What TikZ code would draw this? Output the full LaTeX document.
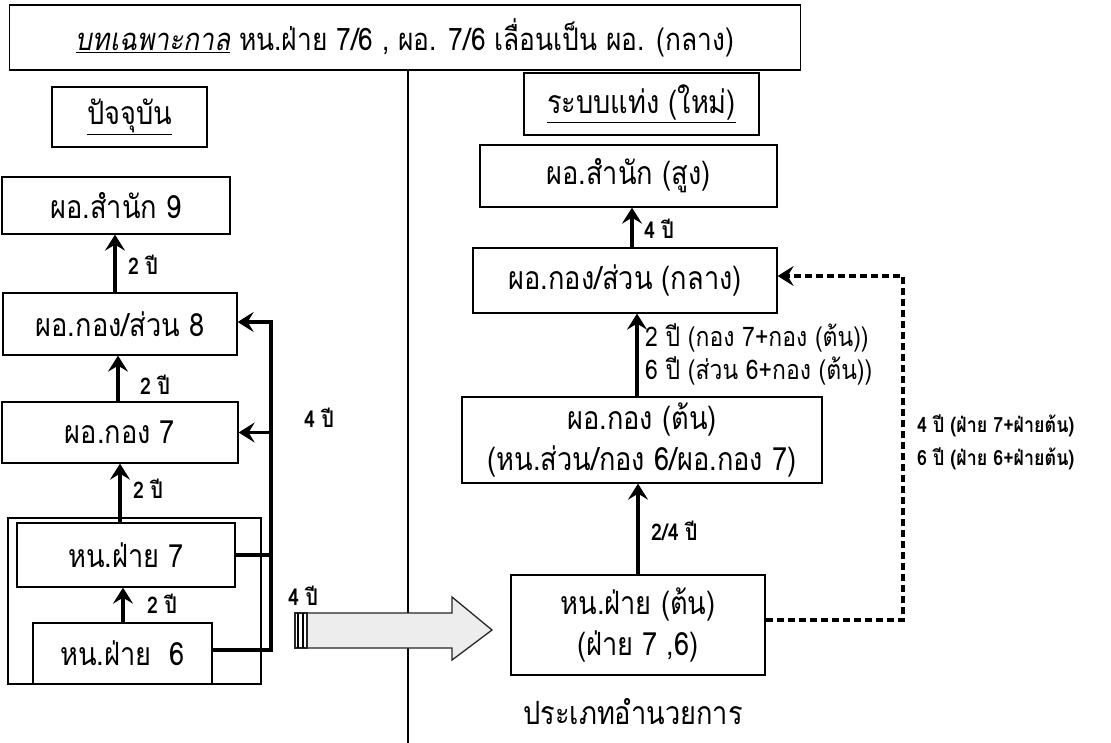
\documentclass[tikz,border=0pt]{standalone}
\usepackage{fontspec}
\setmainfont[Script=Thai, FakeStretch=0.85]{Loma}
\usetikzlibrary{arrows.meta}
\newcommand{\fsbox}{\fontsize{32}{41}\selectfont}
\newcommand{\fstitle}{\fontsize{31}{34}\selectfont}
\newcommand{\fslab}{\fontsize{23}{26}\selectfont\bfseries}
\newcommand{\fsrlab}{\fontsize{27}{30}\selectfont}
\newcommand{\fssmall}{\fontsize{21}{24}\selectfont\bfseries}
\begin{document}
\begin{tikzpicture}[x=1pt,y=-1pt,
  box/.style={draw, line width=1.3pt, inner sep=0pt, align=center, font=\fsbox},
  tip/.style={-{Stealth[length=16pt 0 0,width=20pt 0 0,inset=6pt]}},
  up/.style={tip, line width=3.2pt},
  trunk/.style={line width=3.2pt},
  trunkarrow/.style={trunk, tip},
  dashline/.style={line width=3.4pt, dash pattern=on 7pt off 4pt, tip},
  lab/.style={font=\fslab, anchor=west, inner sep=0pt},
  rlab/.style={font=\fsrlab, anchor=west, inner sep=0pt},
  slab/.style={font=\fssmall, anchor=west, inner sep=0pt}]
\useasboundingbox (0,0) rectangle (1111,743);
\fill[white] (0,0) rectangle (1111,743);

% title and divider
\node[box, font=\fstitle, minimum width=791pt, minimum height=65pt] (title) at (405,37.5)
  {\underline{\textit{บทเฉพาะกาล}} หน.ฝ่าย 7/6 , ผอ. 7/6 เลื่อนเป็น ผอ. (กลาง)};
\coordinate (divtop) at (408,70);
\coordinate (divbot) at (408,743);
\draw[line width=1.4pt] (divtop) -- (divbot);

% left column
\node[box, minimum width=155pt, minimum height=60pt] (now) at (129.5,117) {\underline{ปัจจุบัน}};
\node[box, minimum width=228pt, minimum height=57pt] (S9) at (116,205.5) {ผอ.สำนัก 9};
\node[box, minimum width=234pt, minimum height=62pt] (K8) at (120,324) {ผอ.กอง/ส่วน 8};
\node[box, minimum width=236pt, minimum height=61pt] (K7) at (120,432.5) {ผอ.กอง 7};
\node[draw, line width=1.3pt, minimum width=253pt, minimum height=166pt, inner sep=0pt] (grp) at (134.5,601) {};
\node[box, minimum width=218pt, minimum height=64pt] (F7) at (126,555) {หน.ฝ่าย 7};
\node[box, minimum width=179pt, minimum height=61pt] (F6) at (122.5,653.5) {หน.ฝ่าย\ \ 6};

\coordinate (xa) at (115,0);
\coordinate (xb) at (118,0);
\coordinate (xc) at (120,0);
\coordinate (xd) at (123,0);
\draw[up] (K8.north -| xa) -- (S9.south -| xa);
\draw[up] (K7.north -| xb) -- (K8.south -| xb);
\draw[up] (F7.north -| xc) -- (K7.south -| xc);
\draw[up] (F6.north -| xd) -- (F7.south -| xd);
\node[lab] (l1) at (128,265) {2 ปี};
\node[lab] (l2) at (140,385) {2 ปี};
\node[lab] (l3) at (133,489) {2 ปี};
\node[lab] (l4) at (147,604) {2 ปี};

\coordinate (t1) at (271,650);
\coordinate (t2) at (271,322);
\draw[trunkarrow] (F6.east |- t1) -- (t1) -- (t2) -- (K8.east |- t2);
\draw[trunkarrow] (t2 |- K7.east) -- (K7.east);
\draw[trunk] (F7.east) -- (t1 |- F7.east);
\node[lab] (l5) at (304,418) {4 ปี};
\node[lab] (l6) at (288,596) {4 ปี};

% big arrow
\coordinate (ba1) at (307,613);
\coordinate (ba2) at (452,613);
\coordinate (ba3) at (452,597);
\coordinate (ba4) at (492,630);
\coordinate (ba5) at (452,660);
\coordinate (ba6) at (452,648);
\coordinate (ba7) at (307,648);
\filldraw[fill=gray!14, draw=black!85, line width=1.3pt] (ba1) -- (ba2) -- (ba3) -- (ba4) -- (ba5) -- (ba6) -- (ba7) -- cycle;
\filldraw[fill=white, draw=black!85, line width=1.3pt] (295,613) rectangle (307,648);
\draw[line width=2pt] (298,613) -- (298,648) (302.5,613) -- (302.5,648);

% right column
\node[box, minimum width=235pt, minimum height=62pt] (R) at (641.5,104) {\underline{ระบบแท่ง (ใหม่)}};
\node[box, minimum width=297pt, minimum height=62pt] (H) at (628.5,176) {ผอ.สำนัก (สูง)};
\node[box, minimum width=304pt, minimum height=65pt] (M) at (625,280.5) {ผอ.กอง/ส่วน (กลาง)};
\node[box, minimum width=360pt, minimum height=86pt] (L) at (642,440) {ผอ.กอง (ต้น)\\(หน.ส่วน/กอง 6/ผอ.กอง 7)};
\node[box, minimum width=254pt, minimum height=100pt] (F) at (638,625) {หน.ฝ่าย (ต้น)\\(ฝ่าย 7 ,6)};
\node[font=\fsbox, inner sep=0pt] (type) at (633,712) {ประเภทอำนวยการ};

\coordinate (xe) at (632,0);
\coordinate (xf) at (637,0);
\coordinate (xg) at (638,0);
\draw[up] (M.north -| xe) -- (H.south -| xe);
\draw[up] (L.north -| xf) -- (M.south -| xf);
\draw[up] (F.north -| xg) -- (L.south -| xg);
\node[lab] (r1) at (644,229) {4 ปี};
\node[rlab] (r2) at (645,338) {2 ปี (กอง 7+กอง (ต้น))};
\node[rlab] (r3) at (645,371) {6 ปี (ส่วน 6+กอง (ต้น))};
\node[lab] (r4) at (651,531) {2/4 ปี};

\coordinate (d1) at (903,620);
\coordinate (d2) at (903,276);
\draw[dashline] ([yshift=5pt]F.east) -- (d1) -- (d2) -- (M.east |- d2);
\node[slab] (r5) at (917,426) {4 ปี (ฝ่าย 7+ฝ่ายต้น)};
\node[slab] (r6) at (917,459) {6 ปี (ฝ่าย 6+ฝ่ายต้น)};
\end{tikzpicture}
\end{document}
